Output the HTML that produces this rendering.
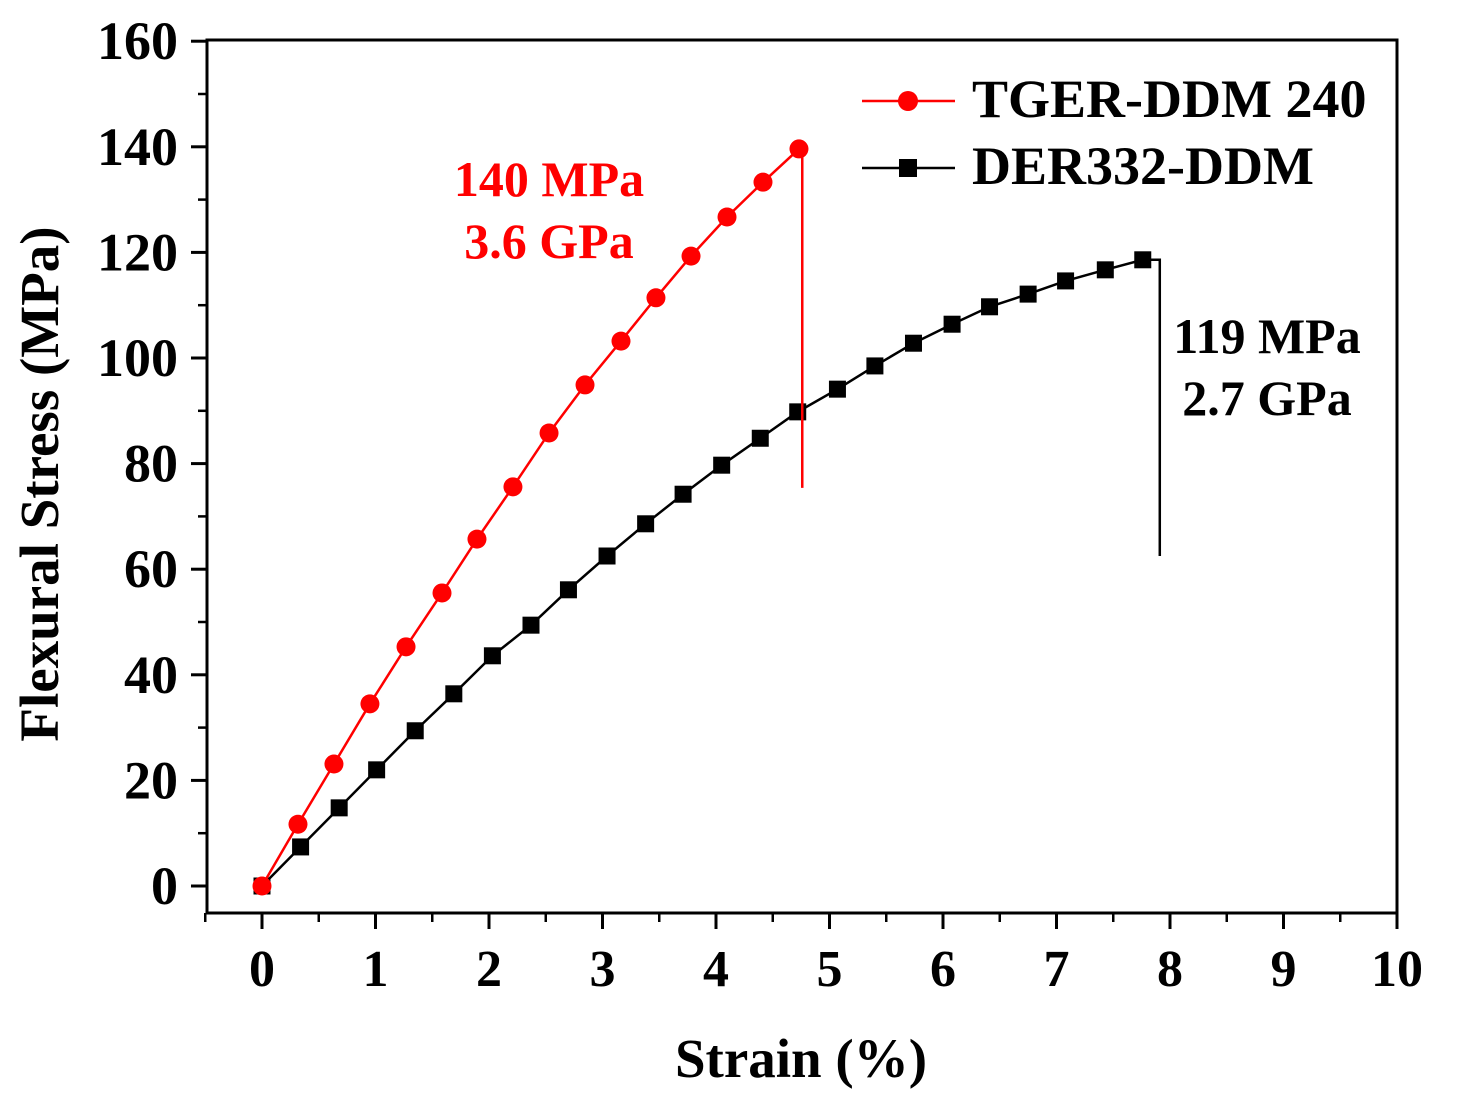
<!DOCTYPE html>
<html><head><meta charset="utf-8"><style>
body{margin:0;background:#fff}
svg text{font-family:"Liberation Serif",serif;font-weight:bold}
</style></head><body>
<svg id="chart" width="1476" height="1093">
<g id="axes"></g><g id="series"></g>
<g>
<line x1="862" y1="101" x2="955" y2="101" stroke="#f00" stroke-width="2.5"/>
<circle cx="908" cy="101" r="10" fill="#f00"/>
<text x="972" y="117" font-size="54" fill="#000">TGER-DDM 240</text>
<line x1="862" y1="168" x2="955" y2="168" stroke="#000" stroke-width="2.5"/>
<rect x="899" y="159" width="18" height="18" fill="#000"/>
<text x="972" y="184" font-size="54" fill="#000">DER332-DDM</text>
</g>
<text x="549" y="196" font-size="50" fill="#f00" text-anchor="middle">140 MPa</text>
<text x="549" y="258" font-size="50" fill="#f00" text-anchor="middle">3.6 GPa</text>
<text x="1267" y="353" font-size="50" fill="#000" text-anchor="middle">119 MPa</text>
<text x="1267" y="415" font-size="50" fill="#000" text-anchor="middle">2.7 GPa</text>
<text x="801" y="1077" font-size="55" text-anchor="middle">Strain (%)</text>
<text transform="translate(58,484) rotate(-90)" font-size="55" text-anchor="middle">Flexural Stress (MPa)</text>
</svg>
<script>
const xTicks=[0,1,2,3,4,5,6,7,8,9,10];
const yTicks=[0,20,40,60,80,100,120,140,160];
const redX=[0,0.317,0.634,0.951,1.269,1.586,1.894,2.211,2.529,2.846,3.163,3.471,3.78,4.097,4.414,4.731];
const redY=[0,11.7,23.1,34.5,45.3,55.5,65.7,75.6,85.8,94.9,103.2,111.4,119.3,126.7,133.3,139.6];
const redDrop=[4.76,75.4];
const blackX=[0,0.34,0.68,1.01,1.35,1.69,2.03,2.37,2.70,3.04,3.38,3.71,4.05,4.39,4.72,5.07,5.40,5.74,6.08,6.41,6.75,7.08,7.43,7.76];
const blackY=[0,7.4,14.8,22.0,29.4,36.4,43.6,49.4,56.1,62.5,68.6,74.2,79.7,84.8,89.8,94.1,98.5,102.8,106.4,109.7,112.1,114.6,116.7,118.6];
const blackDrop=[7.91,62.5];
const L=207,R=1397,T=40,B=913;
const X=v=>262+v*113.5, Y=v=>886-v*5.28;
const NS="http://www.w3.org/2000/svg";
function mk(p,t,a){const e=document.createElementNS(NS,t);for(const k in a)e.setAttribute(k,a[k]);p.appendChild(e);return e;}
const ax=document.getElementById('axes'),sr=document.getElementById('series');
const frame=mk(ax,'rect',{x:L,y:T,width:R-L,height:B-T,fill:'none',stroke:'#000','stroke-width':3});


xTicks.forEach((t,i)=>{
 mk(ax,'line',{x1:X(t),x2:X(t),y1:B,y2:B+16,stroke:'#000','stroke-width':3});
 if(i<xTicks.length-1)mk(ax,'line',{x1:X(t+0.5),x2:X(t+0.5),y1:B,y2:B+9,stroke:'#000','stroke-width':2.5});
 const tx=mk(ax,'text',{x:X(t),y:986,'font-size':52,'text-anchor':'middle'});tx.textContent=t;
 
 
});
mk(ax,'line',{x1:X(-0.5),x2:X(-0.5),y1:B,y2:B+9,stroke:'#000','stroke-width':2.5});
yTicks.forEach((t,i)=>{
 mk(ax,'line',{x1:L-16,x2:L,y1:Y(t),y2:Y(t),stroke:'#000','stroke-width':3});
 if(i<yTicks.length-1)mk(ax,'line',{x1:L-9,x2:L,y1:Y(t+10),y2:Y(t+10),stroke:'#000','stroke-width':2.5});
 const tx=mk(ax,'text',{x:178,y:Y(t)+18,'font-size':54,'text-anchor':'end'});tx.textContent=t;
 
 
});
function series(xs,ys,drop,col,shape,name){
 const g=mk(sr,'g',{});
 
 
 const n=xs.length-1;
 let pts=xs.map((x,i)=>X(x)+','+Y(ys[i])).join(' ');
 pts+=' '+X(drop[0])+','+Y(ys[n])+' '+X(drop[0])+','+Y(drop[1]);
 mk(g,'polyline',{points:pts,fill:'none',stroke:col,'stroke-width':2.5});
 xs.forEach((x,i)=>{
  let m;
  if(shape==='c')m=mk(g,'circle',{cx:X(x),cy:Y(ys[i]),r:9.5,fill:col});
  else m=mk(g,'rect',{x:X(x)-8.5,y:Y(ys[i])-8.5,width:17,height:17,fill:col});
  
  
 });
}
series(blackX,blackY,blackDrop,'#000','s','series-der332-ddm');
series(redX,redY,redDrop,'#f00','c','series-tger-ddm-240');
</script>
</body></html>
